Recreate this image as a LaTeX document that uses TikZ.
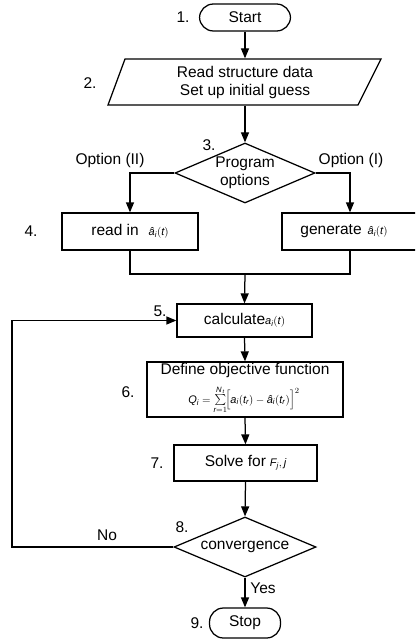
\documentclass[tikz,border=0pt]{standalone}
\usepackage{fontspec}
\setmainfont{Liberation Sans}
\usepackage{amsmath}
\usetikzlibrary{arrows.meta,shapes.geometric}
\newcommand{\sv}[1]{\text{\itshape #1}}
\begin{document}
\begin{tikzpicture}[x=1pt,y=-1pt,line width=1.25pt,
  font=\fontsize{15.5}{18}\selectfont,
  >={Triangle[length=10pt,width=8pt]},
  box/.style={draw,rectangle,inner sep=0pt,align=center},
  term/.style={draw,rectangle,rounded corners=14pt,inner sep=0pt},
  dia/.style={draw,diamond,aspect=2.33,inner sep=0pt,align=center},
  lab/.style={inner sep=0pt}]
\clip (0,0) rectangle (415,639);
\useasboundingbox (0,0) rectangle (415,639);
% nodes
\node[term,minimum width=91,minimum height=27] (s1) at (245,17.5) {Start};
\node[lab,minimum width=230,minimum height=46,align=center] (p2) at (245,82) {Read structure data\\Set up initial guess};
\draw (125,59) -- (381,59) -- (358,105) -- (108,105) -- cycle;
\node[dia,minimum width=140,minimum height=60] (d3) at (245,173) {Program\\options};
\node[box,minimum width=136,minimum height=37] (b4) at (130,231.5) {read in\hspace{10pt}{\fontsize{11}{13}\selectfont$\sv{\^a}_{\sv{i}}(\sv{t})$}};
\node[box,minimum width=136,minimum height=37] (b4r) at (350,231.5) {\hspace*{-12pt}generate\hspace{6pt}{\fontsize{11}{13}\selectfont$\sv{\^a}_{\sv{i}}(\sv{t})$}};
\node[box,minimum width=135,minimum height=33] (b5) at (244.5,320.5) {calculate{\fontsize{11}{13}\selectfont$\sv{a}_{\sv{i}}(\sv{t})$}};
\node[box,minimum width=196,minimum height=55] (b6) at (245,389.5) {};
\node[lab] (b6t) at (245,370) {Define objective function};
\node[lab] (b6f) at (244,400) {\fontsize{11}{12}\selectfont$\sv{Q}_{\sv{i}} = \sum\limits_{\sv{r}=1}^{\sv{N}_{\kern1pt\sv{t}}}\! \Bigl[\sv{a}_{\sv{i}}(\sv{t}_{\sv{r}}) - \sv{\^a}_{\sv{i}}(\sv{t}_{\sv{r}})\Bigr]^2$};
\node[box,minimum width=143,minimum height=36] (b7) at (245.5,463) {Solve for\hspace{4pt}{\fontsize{11}{13}\selectfont$\sv{F}_{\sv{j}}, \sv{j}$}};
\node[dia,minimum width=142,minimum height=60] (d8) at (245,547) {convergence};
\node[term,minimum width=71,minimum height=30] (s9) at (245,623) {Stop};
% labels
\node[lab] (n1) at (183,17) {1.};
\node[lab] (n2) at (90,83) {2.};
\node[lab] (n3) at (209,145) {3.};
\node[lab] (n4) at (31,231) {4.};
\node[lab] (n5) at (160,311) {5.};
\node[lab] (n6) at (128,392) {6.};
\node[lab] (n7) at (157,463) {7.};
\node[lab] (n8) at (182,527) {8.};
\node[lab] (n9) at (197,623) {9.};
\node[lab] (o2) at (110,160) {Option (II)};
\node[lab] (o1) at (351,160) {Option (I)};
\node[lab] (no) at (107,535) {No};
\node[lab] (yes) at (263,588) {Yes};
% connectors
\coordinate (m) at (245,274);
\coordinate (fb) at (12,547);
\draw[->] (s1.south) -- (p2.north);
\draw[->] (p2.south) -- (d3.north);
\draw[->] (d3.west) -| (b4.north);
\draw[->] (d3.east) -| (b4r.north);
\draw (b4.south) |- (m);
\draw (b4r.south) |- (m);
\draw[->] (m) -- (b5.north);
\draw[->] (b5.south) -- (b6.north);
\draw[->] (b6.south) -- (b7.north);
\draw[->] (b7.south) -- (d8.north);
\draw[->] (d8.south) -- (s9.north);
\draw[->] (d8.west) -- (fb) |- (b5.west);
\end{tikzpicture}
\end{document}
